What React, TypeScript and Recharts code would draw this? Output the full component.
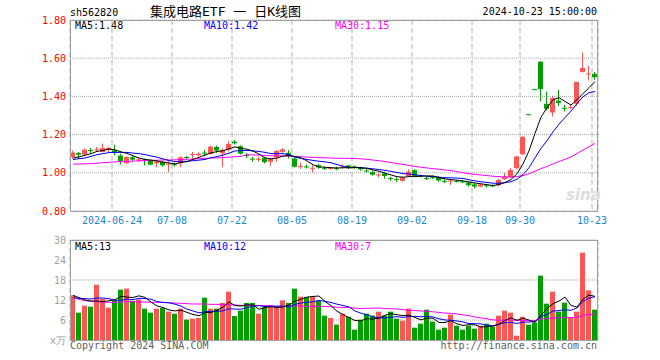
import React from 'react';
import { ComposedChart, Bar, Line, XAxis, YAxis, CartesianGrid } from 'recharts';

const RED = '#ff5555';
const GREEN = '#00a000';
const MONO = "'DejaVu Sans Mono', monospace";

const dates = [
  '06-13', '06-14', '06-17', '06-18', '06-19', '06-20', '06-21', '06-24', '06-25', '06-26', '06-27', '06-28',
  '07-01', '07-02', '07-03', '07-04', '07-05', '07-08', '07-09', '07-10', '07-11', '07-12', '07-15', '07-16',
  '07-17', '07-18', '07-19', '07-22', '07-23', '07-24', '07-25', '07-26', '07-29', '07-30', '07-31',
  '08-01', '08-02', '08-05', '08-06', '08-07', '08-08', '08-09', '08-12', '08-13', '08-14', '08-15', '08-16',
  '08-19', '08-20', '08-21', '08-22', '08-23', '08-26', '08-27', '08-28', '08-29', '08-30',
  '09-02', '09-03', '09-04', '09-05', '09-06', '09-09', '09-10', '09-11', '09-12', '09-13', '09-18', '09-19',
  '09-20', '09-23', '09-24', '09-25', '09-26', '09-27', '09-30',
  '10-08', '10-09', '10-10', '10-11', '10-14', '10-15', '10-16', '10-17', '10-18', '10-21', '10-22', '10-23',
];

const opens = [
  1.083, 1.104, 1.095, 1.119, 1.121, 1.109, 1.121, 1.118, 1.090, 1.050, 1.081, 1.068, 1.070, 1.064, 1.050,
  1.057, 1.045, 1.045, 1.050, 1.083, 1.097, 1.092, 1.106, 1.099, 1.135, 1.102, 1.120, 1.163, 1.139, 1.093,
  1.074, 1.071, 1.079, 1.058, 1.081, 1.110, 1.105, 1.075, 1.034, 1.033, 1.024, 1.040, 1.026, 1.020, 1.024,
  1.031, 1.039, 1.033, 1.028, 1.012, 1.004, 0.989, 0.997, 0.972, 0.967, 0.958, 0.983, 1.014, 0.985, 0.973,
  0.977, 0.977, 0.958, 0.958, 0.958, 0.955, 0.949, 0.939, 0.928, 0.935, 0.934, 0.935, 0.967, 0.977, 1.024,
  1.097, 1.307, 1.438, 1.582, 1.361, 1.316, 1.378, 1.340, 1.342, 1.361, 1.528, 1.518, 1.518,
];
const highs = [
  1.116, 1.109, 1.127, 1.130, 1.135, 1.153, 1.137, 1.147, 1.099, 1.086, 1.092, 1.081, 1.074, 1.069, 1.066,
  1.060, 1.060, 1.052, 1.086, 1.088, 1.109, 1.107, 1.121, 1.142, 1.142, 1.127, 1.165, 1.172, 1.144, 1.104,
  1.084, 1.084, 1.084, 1.075, 1.119, 1.129, 1.119, 1.084, 1.053, 1.044, 1.040, 1.046, 1.032, 1.030, 1.032,
  1.044, 1.040, 1.039, 1.032, 1.020, 1.011, 1.000, 1.002, 0.979, 0.976, 0.979, 1.018, 1.018, 0.990, 0.979,
  0.985, 0.984, 0.966, 0.966, 0.963, 0.963, 0.954, 0.946, 0.942, 0.942, 0.940, 0.967, 0.998, 1.024, 1.089,
  1.192, 1.307, 1.438, 1.582, 1.425, 1.403, 1.434, 1.356, 1.356, 1.476, 1.630, 1.560, 1.528,
];
const lows = [
  1.074, 1.077, 1.086, 1.104, 1.112, 1.106, 1.107, 1.092, 1.043, 1.046, 1.060, 1.057, 1.038, 1.039, 1.029,
  1.031, 1.006, 1.033, 1.029, 1.069, 1.077, 1.086, 1.086, 1.095, 1.104, 1.029, 1.113, 1.148, 1.095, 1.077,
  1.058, 1.058, 1.049, 1.037, 1.058, 1.105, 1.075, 1.028, 1.020, 1.023, 1.002, 1.021, 1.014, 1.018, 1.014,
  1.020, 1.020, 1.021, 1.011, 1.002, 0.986, 0.976, 0.969, 0.958, 0.953, 0.953, 0.979, 0.979, 0.976, 0.962,
  0.968, 0.953, 0.946, 0.937, 0.949, 0.946, 0.928, 0.918, 0.925, 0.923, 0.925, 0.928, 0.963, 0.973, 1.019,
  1.094, 1.307, 1.438, 1.373, 1.326, 1.295, 1.350, 1.321, 1.335, 1.350, 1.525, 1.483, 1.487,
];
const closes = [
  1.106, 1.095, 1.121, 1.116, 1.123, 1.130, 1.130, 1.104, 1.060, 1.083, 1.069, 1.070, 1.068, 1.043, 1.060,
  1.039, 1.048, 1.043, 1.081, 1.081, 1.099, 1.100, 1.104, 1.137, 1.116, 1.120, 1.151, 1.155, 1.100, 1.091,
  1.072, 1.073, 1.056, 1.072, 1.114, 1.122, 1.088, 1.032, 1.036, 1.031, 1.026, 1.028, 1.024, 1.025, 1.023,
  1.033, 1.025, 1.031, 1.018, 1.010, 0.990, 0.991, 0.983, 0.970, 0.965, 0.976, 1.006, 0.983, 0.983, 0.970,
  0.975, 0.960, 0.956, 0.960, 0.956, 0.954, 0.935, 0.928, 0.939, 0.933, 0.932, 0.963, 0.980, 1.015, 1.085,
  1.188, 1.307, 1.438, 1.438, 1.335, 1.391, 1.366, 1.338, 1.344, 1.476, 1.549, 1.520, 1.501,
];
// volume, 万
const volumes = [
  13.4, 8.2, 10.3, 10.0, 16.6, 12.3, 9.7, 11.8, 15.1, 15.4, 11.8, 12.2, 9.4, 8.2, 9.4,
  9.6, 8.5, 7.9, 9.4, 6.1, 6.4, 6.6, 12.7, 9.4, 9.4, 11.1, 14.5, 7.2, 8.8, 11.1,
  11.1, 7.9, 9.8, 10.1, 9.7, 11.9, 11.1, 15.4, 13.0, 12.9, 12.9, 11.8, 7.3, 6.6, 4.6,
  7.9, 7.0, 3.1, 6.1, 7.9, 7.3, 8.5, 7.3, 8.5, 6.4, 5.8, 9.4, 3.7, 4.9, 9.1,
  5.5, 3.1, 3.7, 7.6, 4.3, 3.1, 4.3, 3.4, 4.3, 4.9, 4.0, 7.3, 8.8, 8.2, 1.3,
  7.0, 4.6, 5.2, 19.3, 10.9, 14.5, 8.5, 11.2, 6.7, 8.5, 26.2, 14.9, 9.1,
];

// moving-average values before a full window exists
const priceMa5Head = [1.077, 1.083, 1.092, 1.100];
const priceMa10Head = [1.069, 1.074, 1.077, 1.086, 1.095, 1.100, 1.106, 1.107, 1.107];
const priceMa30Head = [
  1.045, 1.046, 1.047, 1.048, 1.050, 1.053, 1.055, 1.057, 1.059, 1.060, 1.061, 1.063, 1.064, 1.065, 1.066,
  1.067, 1.067, 1.068, 1.070, 1.071, 1.072, 1.074, 1.076, 1.077, 1.078, 1.080, 1.082, 1.084, 1.086,
];
const volMa5Head = [13.4, 12.7, 12.0, 11.7];
const volMa10Head = [12.7, 12.5, 12.4, 12.3, 12.6, 12.6, 12.4, 11.9, 11.9];
const volMa30Head = [
  12.8, 12.2, 11.8, 11.6, 11.5, 11.4, 11.3, 11.3, 11.4, 11.5, 11.5, 11.4, 11.4, 11.3, 11.3,
  11.3, 11.2, 11.1, 11.0, 10.9, 10.8, 10.8, 10.8, 10.7, 10.7, 10.6, 10.6, 10.5, 10.4,
];

const tickLabels = ['2024-06-24', '07-08', '07-22', '08-05', '08-19', '09-02', '09-18', '09-30', '10-23'];
const priceTicks = [0.8, 1.0, 1.2, 1.4, 1.6, 1.8];
const volTicks = [0, 6, 12, 18, 24, 30];
const priceLegend = ['MA5:1.48', 'MA10:1.42', 'MA30:1.15'];
const volLegend = ['MA5:13', 'MA10:12', 'MA30:7'];

function movingAvg(values: number[], n: number, head: number[]) {
  return values.map((_, i) => {
    if (i < n - 1) return head[i];
    let s = 0;
    for (let j = i - n + 1; j <= i; j++) s += values[j];
    return s / n;
  });
}

const pMa5 = movingAvg(closes, 5, priceMa5Head);
const pMa10 = movingAvg(closes, 10, priceMa10Head);
const pMa30 = movingAvg(closes, 30, priceMa30Head);
const vMa5 = movingAvg(volumes, 5, volMa5Head);
const vMa10 = movingAvg(volumes, 10, volMa10Head);
const vMa30 = movingAvg(volumes, 30, volMa30Head);

const rows = dates.map((d, i) => ({
  x: i + 0.5,
  date: d,
  open: opens[i],
  high: highs[i],
  low: lows[i],
  close: closes[i],
  range: [lows[i], highs[i]],
  up: closes[i] > opens[i],
  vol: volumes[i],
  ma5: pMa5[i],
  ma10: pMa10[i],
  ma30: pMa30[i],
  vma5: vMa5[i],
  vma10: vMa10[i],
  vma30: vMa30[i],
}));

const tickIdx = tickLabels.map((l) => dates.indexOf(l.slice(-5)));
const tickText: Record<number, string> = {};
tickIdx.forEach((t, i) => (tickText[t] = tickLabels[i]));

const Candle = (props: any) => {
  const { x, y, height, payload } = props;
  const { open, close, high, low, up } = payload;
  const color = up ? RED : GREEN;
  const span = high - low;
  const py = (v: number) => (span > 0 ? y + ((high - v) / span) * height : y);
  const left = Math.floor(x);
  const top = py(Math.max(open, close));
  const bot = py(Math.min(open, close));
  return (
    <g>
      <rect x={left + 2} y={y} width={1} height={Math.max(height, 1)} fill={color} />
      <rect x={left} y={top} width={5} height={Math.max(bot - top, 1)} fill={color} />
    </g>
  );
};

const VolBar = (props: any) => {
  const { x, y, height, payload } = props;
  return <rect x={Math.floor(x)} y={y} width={5} height={height} fill={payload.up ? RED : GREEN} />;
};

const txt = (extra: React.CSSProperties): React.CSSProperties => ({
  position: 'absolute',
  fontFamily: MONO,
  fontSize: 10,
  lineHeight: '12px',
  whiteSpace: 'nowrap',
  ...extra,
});

const box = (top: number, height: number): React.CSSProperties => ({
  position: 'absolute',
  left: 70,
  top,
  width: 528,
  height,
  border: '1px solid #a0a0a0',
  boxSizing: 'border-box',
  pointerEvents: 'none',
});

const App: React.FC = () => {
  return (
    <div style={{ position: 'absolute', left: 0, top: 0, width: 660, height: 360, background: '#fff', overflow: 'hidden' }}>
      <div style={{ position: 'absolute', left: 0, top: 0 }}>
        <ComposedChart width={660} height={230} data={rows} margin={{ top: 20, right: 62, bottom: 0, left: 0 }}>
          <CartesianGrid vertical={false} stroke="#a8a8a8" strokeDasharray="1 1" />
          <CartesianGrid horizontal={false} stroke="#b0b0b0" strokeDasharray="5 3" />
          <XAxis
            dataKey="x"
            type="number"
            domain={[0, 88]}
            ticks={tickIdx}
            interval={0}
            height={19}
            axisLine={false}
            tickLine={false}
            tickSize={0}
            tickMargin={6}
            tickFormatter={(v: number) => tickText[v] ?? ''}
            tick={{ fill: '#1a86d0', fontSize: 10, fontFamily: MONO }}
          />
          <YAxis
            type="number"
            domain={[0.8, 1.8]}
            ticks={priceTicks}
            width={70}
            axisLine={false}
            tickLine={false}
            tickSize={0}
            tickMargin={4}
            tickFormatter={(v: number) => v.toFixed(2)}
            tick={{ fill: '#ff0000', fontSize: 10, fontFamily: MONO }}
          />
          <Bar dataKey="range" barSize={5} shape={Candle} isAnimationActive={false} />
          <Line dataKey="ma30" stroke="#ff00ff" strokeWidth={1} dot={false} isAnimationActive={false} />
          <Line dataKey="ma10" stroke="#0000ff" strokeWidth={1} dot={false} isAnimationActive={false} />
          <Line dataKey="ma5" stroke="#000000" strokeWidth={1} dot={false} isAnimationActive={false} />
        </ComposedChart>
      </div>
      <div style={{ position: 'absolute', left: 0, top: 230 }}>
        <ComposedChart width={660} height={130} data={rows} margin={{ top: 10, right: 62, bottom: 20, left: 0 }}>
          <CartesianGrid vertical={false} stroke="#a8a8a8" strokeDasharray="1 1" />
          <CartesianGrid horizontal={false} stroke="#b0b0b0" strokeDasharray="5 3" />
          <XAxis
            dataKey="x"
            type="number"
            domain={[0, 88]}
            ticks={tickIdx}
            interval={0}
            height={0}
            axisLine={false}
            tickLine={false}
            tick={false}
          />
          <YAxis
            type="number"
            domain={[0, 30]}
            ticks={volTicks}
            width={70}
            axisLine={false}
            tickLine={false}
            tickSize={0}
            tickMargin={4}
            tickFormatter={(v: number) => (v === 0 ? 'x万' : String(v))}
            tick={{ fill: '#a0a0a0', fontSize: 10, fontFamily: MONO }}
          />
          <Bar dataKey="vol" barSize={5} shape={VolBar} isAnimationActive={false} />
          <Line dataKey="vma30" stroke="#ff00ff" strokeWidth={1} dot={false} isAnimationActive={false} />
          <Line dataKey="vma10" stroke="#0000ff" strokeWidth={1} dot={false} isAnimationActive={false} />
          <Line dataKey="vma5" stroke="#000000" strokeWidth={1} dot={false} isAnimationActive={false} />
        </ComposedChart>
      </div>

      <div style={box(20, 192)} />
      <div style={box(240, 101)} />

      <div style={txt({ left: 70, top: 7, color: '#000' })}>sh562820</div>
      <div
        style={{
          position: 'absolute',
          left: 150,
          top: 4,
          fontFamily: "'DejaVu Sans Mono', 'Noto Sans CJK SC', monospace",
          fontSize: 13,
          lineHeight: '16px',
          color: '#000',
          whiteSpace: 'pre',
        }}
      >
        集成电路ETF 一 日K线图
      </div>
      <div style={txt({ right: 63, top: 6, color: '#000' })}>2024-10-23 15:00:00</div>

      <div style={txt({ left: 75, top: 20, color: '#000' })}>{priceLegend[0]}</div>
      <div style={txt({ left: 204, top: 20, color: '#0000ff' })}>{priceLegend[1]}</div>
      <div style={txt({ left: 335, top: 20, color: '#ff00ff' })}>{priceLegend[2]}</div>

      <div style={txt({ left: 75, top: 241, color: '#000' })}>{volLegend[0]}</div>
      <div style={txt({ left: 204, top: 241, color: '#0000ff' })}>{volLegend[1]}</div>
      <div style={txt({ left: 335, top: 241, color: '#ff00ff' })}>{volLegend[2]}</div>

      <div
        style={{
          position: 'absolute',
          left: 566,
          top: 186,
          fontFamily: "'DejaVu Sans', sans-serif",
          fontSize: 15,
          fontWeight: 'bold',
          fontStyle: 'italic',
          color: '#dcdcdc',
        }}
      >
        sina
      </div>

      <div style={txt({ left: 70, top: 340, color: '#606060' })}>Copyright 2024 SINA.COM</div>
      <div style={txt({ right: 63, top: 340, color: '#606060' })}>http://finance.sina.com.cn</div>
    </div>
  );
};

export default App;
